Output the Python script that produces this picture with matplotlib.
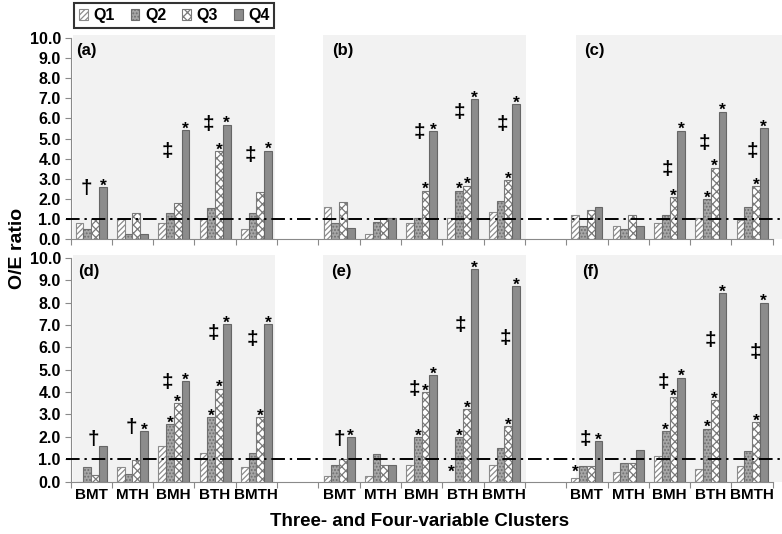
import matplotlib
matplotlib.use("Agg")
import matplotlib.pyplot as plt
from matplotlib.patches import Patch, Rectangle

plt.rcParams['font.family'] = ['Liberation Sans', 'DejaVu Sans']
plt.rcParams['font.weight'] = 'bold'
plt.rcParams['hatch.linewidth'] = 0.9

# ---------------- data ----------------
clusters = ['BMT', 'MTH', 'BMH', 'BTH', 'BMTH']
quartiles = ['Q1', 'Q2', 'Q3', 'Q4']
panel_names = ['(a)', '(b)', '(c)', '(d)', '(e)', '(f)']

# values per panel: rows = Q1..Q4, columns = clusters
panel_a = [[0.80, 1.00, 0.80, 1.00, 0.52],
           [0.51, 0.26, 1.31, 1.56, 1.31],
           [1.00, 1.28, 1.80, 4.37, 2.33],
           [2.58, 0.26, 5.42, 5.69, 4.40]]
panel_b = [[1.60, 0.26, 0.79, 1.05, 1.33],
           [0.79, 0.85, 1.07, 2.41, 1.87],
           [1.86, 1.05, 2.40, 2.66, 2.92],
           [0.54, 1.07, 5.37, 6.97, 6.70]]
panel_c = [[1.18, 0.65, 0.79, 1.03, 0.93],
           [0.65, 0.52, 1.18, 1.97, 1.58],
           [1.43, 1.18, 2.09, 3.55, 2.63],
           [1.58, 0.65, 5.39, 6.33, 5.52]]
panel_d = [[0.00, 0.63, 1.61, 1.28, 0.63],
           [0.64, 0.32, 2.57, 2.88, 1.27],
           [0.30, 0.96, 3.50, 4.16, 2.88],
           [1.60, 2.25, 4.49, 7.04, 7.04]]
panel_e = [[0.24, 0.24, 0.75, 0.00, 0.75],
           [0.75, 1.25, 1.99, 1.99, 1.49],
           [1.00, 0.75, 3.99, 3.24, 2.49],
           [1.99, 0.75, 4.75, 9.49, 8.75]]
panel_f = [[0.15, 0.42, 1.12, 0.55, 0.70],
           [0.70, 0.82, 2.24, 2.37, 1.38],
           [0.70, 0.82, 3.78, 3.63, 2.66],
           [1.81, 1.39, 4.64, 8.43, 8.00]]
panels = [panel_a, panel_b, panel_c, panel_d, panel_e, panel_f]

reference_ratio = 1.0

# significance stars: (panel, cluster, quartile)
stars = [
    (0, 0, 3), (0, 2, 3), (0, 3, 2), (0, 3, 3), (0, 4, 3),
    (1, 2, 2), (1, 2, 3), (1, 3, 1), (1, 3, 2), (1, 3, 3), (1, 4, 2), (1, 4, 3),
    (2, 2, 2), (2, 2, 3), (2, 3, 1), (2, 3, 2), (2, 3, 3), (2, 4, 2), (2, 4, 3),
    (3, 1, 3), (3, 2, 1), (3, 2, 2), (3, 2, 3), (3, 3, 1), (3, 3, 2), (3, 3, 3),
    (3, 4, 2), (3, 4, 3),
    (4, 0, 3), (4, 2, 1), (4, 2, 2), (4, 2, 3), (4, 3, 0), (4, 3, 1), (4, 3, 2),
    (4, 3, 3), (4, 4, 2), (4, 4, 3),
    (5, 0, 0), (5, 0, 3), (5, 2, 1), (5, 2, 2), (5, 2, 3), (5, 3, 1), (5, 3, 2),
    (5, 3, 3), (5, 4, 2), (5, 4, 3),
]
star_floor = 0.35

# trend symbols: (panel, cluster, symbol, level)
trends = [
    (0, 0, '\u2020', 2.50), (0, 2, '\u2021', 4.37), (0, 3, '\u2021', 5.69), (0, 4, '\u2021', 4.16),
    (1, 2, '\u2021', 5.31), (1, 3, '\u2021', 6.30), (1, 4, '\u2021', 5.69),
    (2, 2, '\u2021', 3.45), (2, 3, '\u2021', 4.77), (2, 4, '\u2021', 4.37),
    (3, 0, '\u2020', 1.88), (3, 1, '\u2020', 2.40), (3, 2, '\u2021', 4.42), (3, 3, '\u2021', 6.63),
    (3, 4, '\u2021', 6.36),
    (4, 0, '\u2020', 1.88), (4, 2, '\u2021', 4.13), (4, 3, '\u2021', 6.96), (4, 4, '\u2021', 6.40),
    (5, 0, '\u2021', 1.88), (5, 2, '\u2021', 4.42), (5, 3, '\u2021', 6.33), (5, 4, '\u2021', 5.76),
]
trend_offsets = [-0.11, -0.15, -0.15, -0.15, -0.06, -0.09, -0.04, -0.06, -0.16, 0.0,
                 0.05, -0.02, -0.15, -0.04, -0.09, 0.02, -0.18, -0.05, 0.02,
                 -0.04, -0.15, 0.0, 0.07]

# ---------------- style ----------------
bar_w = 0.1875
styles = [
    dict(facecolor='white', edgecolor='#8c8c8c', hatch='//////', linewidth=0.8),
    dict(facecolor='#a6a6a6', edgecolor='#6e6e6e', hatch='.....', linewidth=0.8),
    dict(facecolor='white', edgecolor='#7a7a7a', hatch='xxxx', linewidth=0.8),
    dict(facecolor='#8c8c8c', edgecolor='#666666', hatch=None, linewidth=0.8),
]
shade_spans = [(-0.44, 4.45), (5.61, 10.53), (11.74, 16.72)]
label_x = [-0.37, 5.83, 11.93, -0.32, 5.82, 11.88]
axis_grey = '#8a8a8a'

fig = plt.figure(figsize=(7.82, 5.34), dpi=100)
ax_top = fig.add_axes([0.0902, 0.5524, 0.898, 0.3764])
ax_bot = fig.add_axes([0.0902, 0.0983, 0.898, 0.4186])
axes = [ax_top, ax_bot]

for ax in axes:
    ax.set_xlim(-0.5, 16.5)
    ax.set_ylim(0, 10)
    ax.set_facecolor('none')
    for s in ['top', 'right']:
        ax.spines[s].set_visible(False)
    for s in ['left', 'bottom']:
        ax.spines[s].set_color(axis_grey)
        ax.spines[s].set_linewidth(0.8)
    ax.set_yticks(range(0, 11))
    ax.set_yticklabels([f'{v:.1f}' for v in range(0, 11)], fontsize=11.5, fontweight='bold')
    ax.tick_params(axis='y', direction='out', length=4, color=axis_grey, pad=3)
    ax.set_xticks([i - 0.5 for i in range(18)])
    ax.set_xticklabels([])
    ax.tick_params(axis='x', which='major', direction='out', length=4, color=axis_grey)
    for c, (x0, x1) in enumerate(shade_spans):
        ax.add_patch(Rectangle((x0, 0), x1 - x0, 10.15, facecolor='#f2f2f2',
                               edgecolor='none', zorder=0, clip_on=False))
    ax.plot([-0.6, 16.75], [reference_ratio, reference_ratio], color='black', lw=1.4,
            linestyle=(0, (7, 2.5, 1.2, 2.5)), zorder=5, clip_on=False)

centers = [c * 6 + k for c in range(3) for k in range(5)]
ax_bot.set_xticks(centers, minor=True)
ax_bot.set_xticklabels(clusters * 3, minor=True, fontsize=11, fontweight='bold')
ax_bot.tick_params(axis='x', which='minor', length=0, pad=5)

for p, vals in enumerate(panels):
    ax = axes[p // 3]
    col = p % 3
    for q in range(4):
        xs = [col * 6 + k + (q - 1.5) * bar_w for k in range(5)]
        ax.bar(xs, vals[q], width=bar_w, zorder=2, **styles[q])
    ax.text(label_x[p], 9.4, panel_names[p], fontsize=12, fontweight='bold',
            ha='left', va='center', zorder=6)

for (p, k, q) in stars:
    ax = axes[p // 3]
    col = p % 3
    x = col * 6 + k + (q - 1.5) * bar_w
    y = max(panels[p][q][k], star_floor)
    ax.annotate('*', xy=(x, y), xytext=(0, -2.5), textcoords='offset points',
                ha='center', va='baseline', fontsize=12.5, fontweight='bold', zorder=6)

for (p, k, sym, lev), off in zip(trends, trend_offsets):
    ax = axes[p // 3]
    col = p % 3
    ax.text(col * 6 + k + off, lev, sym, ha='center', va='center', fontsize=15,
            fontweight='bold', zorder=6)

fig.text(0.022, 1 - 248 / 534, 'O/E ratio', rotation=90, ha='center', va='center',
         fontsize=14, fontweight='bold')
fig.text(0.537, 1 - 522 / 534, 'Three- and Four-variable Clusters', ha='center',
         va='center', fontsize=13.5, fontweight='bold')

handles = [Patch(**styles[q], label=quartiles[q]) for q in range(4)]
leg = fig.legend(handles=handles, loc='upper left', bbox_to_anchor=(74 / 782, 1 - 3 / 534),
                 ncol=4, frameon=True, fancybox=False, fontsize=11.5,
                 handlelength=0.55, handleheight=0.7, handletextpad=0.35,
                 columnspacing=1.0, borderpad=0.3, borderaxespad=0)
leg.get_frame().set_edgecolor('black')
leg.get_frame().set_linewidth(1.5)
for t in leg.get_texts():
    t.set_fontweight('bold')

fig.savefig('out.png', dpi=100)
